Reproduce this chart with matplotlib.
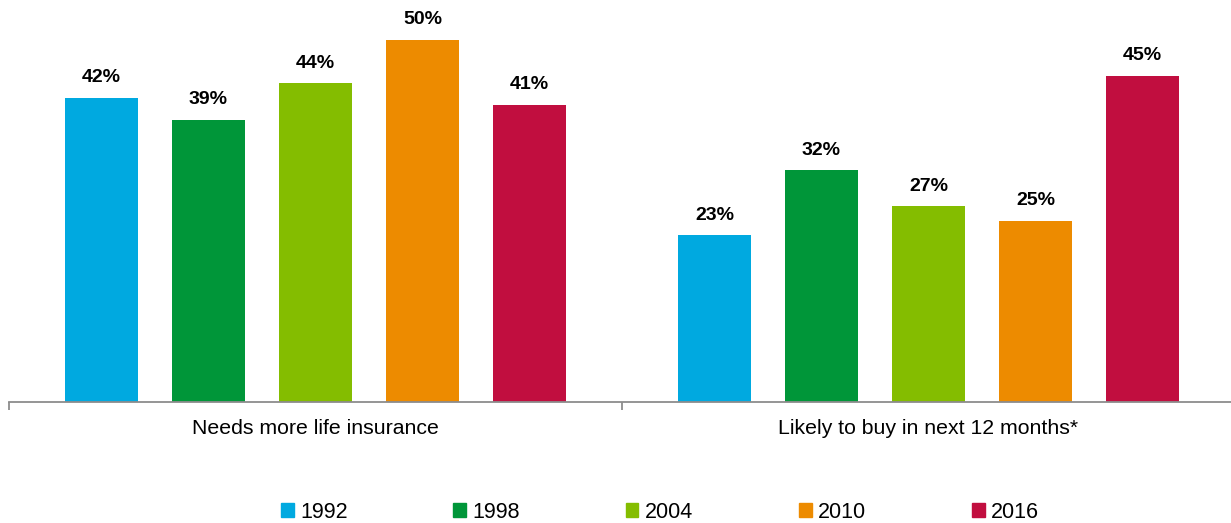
import numpy as np
import matplotlib.pyplot as plt
from matplotlib.patches import Patch

plt.rcParams['font.family'] = ['Liberation Sans', 'DejaVu Sans']

categories = ['Needs more life insurance', 'Likely to buy in next 12 months*']
years = ['1992', '1998', '2004', '2010', '2016']
values = {
    '1992': [42, 23],
    '1998': [39, 32],
    '2004': [44, 27],
    '2010': [50, 25],
    '2016': [41, 45],
}
colors = ['#00A9E0', '#009639', '#84BD00', '#ED8B00', '#C10E3F']

fig = plt.figure(figsize=(12.31, 5.23), dpi=100)
ax = fig.add_axes([9/1231, 121/523, 1226/1231, 402/523])

x = np.arange(len(categories))
step = 0.1746
width = 0.119
for i, yr in enumerate(years):
    pos = x + (i - 2) * step
    bars = ax.bar(pos, values[yr], width, color=colors[i], zorder=2)
    for b, v in zip(bars, values[yr]):
        ax.text(b.get_x() + b.get_width()/2, v + 1.6, f'{v}%', ha='center', va='bottom',
                fontsize=14, fontweight='bold', color='black')

ax.set_xlim(-0.5, 1.5)
ax.set_ylim(0, 55.5)
ax.set_yticks([])
for s in ['top', 'right', 'left']:
    ax.spines[s].set_visible(False)
ax.spines['bottom'].set_color('#8c8c8c')
ax.spines['bottom'].set_linewidth(1.3)
ax.set_xticks([-0.5, 0.5, 1.5])
ax.set_xticklabels([])
ax.tick_params(axis='x', which='major', length=6, width=1.3, color='#8c8c8c')
ax.set_xticks(x, minor=True)
ax.set_xticklabels(categories, minor=True, fontsize=15.3)
ax.tick_params(axis='x', which='minor', length=0, pad=12.5)

handles = [Patch(color=c, label=y) for c, y in zip(colors, years)]
fig.legend(handles=handles, loc='center', bbox_to_anchor=(0.536, 11/523), ncol=5,
           frameon=False, fontsize=15.5, handlelength=0.6, handleheight=0.6,
           handletextpad=0.3, columnspacing=4.9)

fig.savefig('out.png', dpi=100)
